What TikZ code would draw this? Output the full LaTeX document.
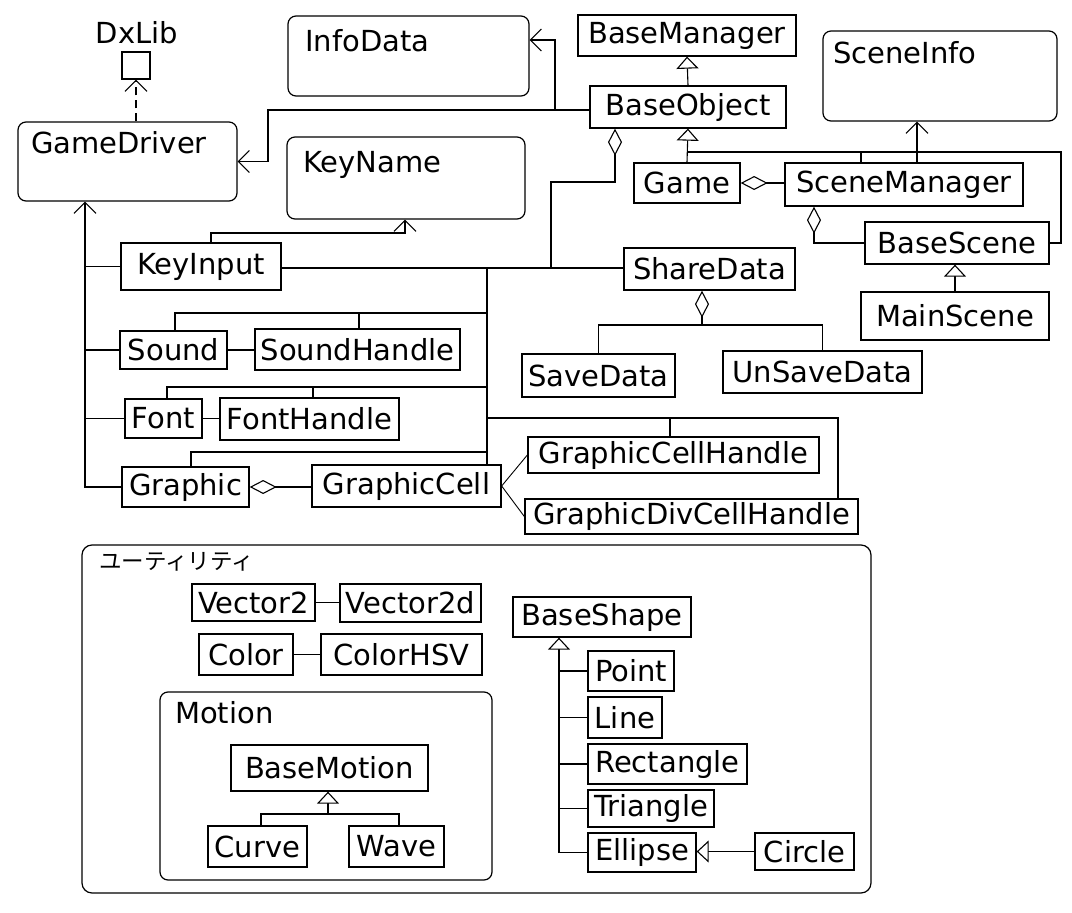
\documentclass[tikz,border=0pt]{standalone}
\usepackage{fontspec}
\setmainfont{DejaVu Sans}
\newfontfamily\jpfont{Noto Sans CJK JP}
\usetikzlibrary{arrows.meta,calc}
\tikzset{
 cls/.style={draw, line width=1.3pt, inner sep=0pt, fill=white, font=\fontsize{29}{34}\selectfont},
 rbox/.style={draw, line width=1.2pt, rounded corners=8pt, inner sep=0pt},
 ubox/.style={draw, line width=1.2pt, rounded corners=10pt, inner sep=0pt},
 lbl/.style={anchor=west, inner sep=0pt, font=\fontsize{29}{34}\selectfont},
 ln/.style={line width=1.1pt},
 thin ln/.style={line width=0.9pt},
 arr/.style={ln, -{Straight Barb[length=11pt,width=22pt,line width=1.1pt]}},
 tri/.style={ln, -{Triangle[open,length=12pt,width=22pt,line width=1.1pt,fill=white]}},
 dia/.style={ln, {Diamond[open,length=27pt,width=14pt,line width=1.1pt,fill=white]}-},
}
\newcommand\bx[7][cls]{\node[#1,minimum width={#5-#3},minimum height={#6-#4}] (#2) at ({(#3+#5)/2},{(#4+#6)/2}) {#7};}
\begin{document}
\begin{tikzpicture}[x=1pt,y=-1pt]
\useasboundingbox (0,0) rectangle (1072,913);
\fill[white] (0,0) rectangle (1072,913);

% top-left
\node[inner sep=0pt, font=\fontsize{29}{34}\selectfont] (dxt) at (137,33) {DxLib};
\bx{dx}{122}{52}{150}{79}{}
\bx[rbox]{gd}{18}{122}{237}{201}{}
\node[lbl] (gdt) at (31,143) {GameDriver};
\bx[rbox]{id}{288}{16}{529}{96}{}
\node[lbl] (idt) at (305,41) {InfoData};
\bx[rbox]{kn}{287}{137}{525}{219}{}
\node[lbl] (knt) at (303,165) {KeyName};
\bx[rbox]{si}{823}{31}{1057}{121}{}
\node[lbl] (sit) at (833,53) {SceneInfo};

\bx{bm}{578}{15}{796}{56}{BaseManager}
\bx{bo}{590}{86}{786}{128}{BaseObject}
\bx{game}{634}{163}{740}{203}{Game}
\bx{sm}{785}{163}{1023}{206}{SceneManager}
\bx{bs}{865}{222}{1049}{264}{BaseScene}
\bx{ms}{861}{292}{1049}{340}{MainScene}
\bx{sd}{624}{248}{795}{290}{ShareData}
\bx{sv}{522}{354}{675}{397}{SaveData}
\bx{usv}{723}{351}{922}{393}{UnSaveData}
\bx{ki}{121}{243}{281}{290}{KeyInput}
\bx{so}{120}{331}{227}{369}{Sound}
\bx{sh}{255}{329}{460}{370}{SoundHandle}
\bx{fo}{125}{399}{202}{438}{Font}
\bx{fh}{220}{398}{399}{440}{FontHandle}
\bx{gr}{122}{467}{249}{507}{Graphic}
\bx{gc}{312}{465}{501}{507}{GraphicCell}
\bx{gch}{528}{437}{819}{473}{GraphicCellHandle}
\bx{gdch}{525}{499}{858}{534}{GraphicDivCellHandle}

% utility
\bx[ubox]{util}{82}{545}{871}{893}{}
\node[anchor=west, inner sep=0pt, font=\jpfont\fontsize{22.5}{26}\selectfont] (utilt) at (99,562) {ユーティリティ};
\bx{v2}{192}{584}{315}{621}{Vector2}
\bx{v2d}{340}{584}{481}{622}{Vector2d}
\bx{co}{199}{634}{293}{675}{Color}
\bx{chsv}{321}{634}{482}{675}{ColorHSV}
\bx[rbox]{mot}{160}{692}{492}{880}{}
\node[lbl] (mott) at (175,713) {Motion};
\bx{bmo}{231}{745}{428}{791}{BaseMotion}
\bx{cu}{208}{826}{307}{867}{Curve}
\bx{wa}{349}{826}{444}{867}{Wave}
\bx{bsh}{513}{597}{691}{637}{BaseShape}
\bx{pt}{588}{651}{674}{691}{Point}
\bx{li}{588}{697}{662}{738}{Line}
\bx{re}{588}{744}{747}{784}{Rectangle}
\bx{tr}{588}{790}{714}{827}{Triangle}
\bx{el}{588}{833}{696}{872}{Ellipse}
\bx{ci}{755}{833}{854}{870}{Circle}

% connectors top
\draw[arr, dash pattern=on 8pt off 5pt] (dx.south |- gd.north) -- (dx.south);
\draw[arr] (bo.west |- 0,110) -- (268,110) -- (268,161.5) -- (gd.east);
\draw[arr] (555,110) -- (555,40) -- (id.east |- 0,40);
\draw[tri] (bo.north) -- (bm.south);
\draw[tri] (game.north) -- (bo.south);
\draw[ln] (sm.north -| 861,0) -- (861,152);
\draw[ln] (bs.east) -- (1061,243) -- (1061,152) -- (687,152);
\draw[dia] (game.east) -- (sm.west |- game.east);
\draw[arr] (sm.north -| 917,0) -- (si.south -| 917,0);
\draw[dia] (sm.south -| 814,0) |- (bs.west);
\draw[tri] (ms.north) -- (ms.north |- bs.south);
\draw[dia] (sd.south -| 702,0) -- (702,325);
\draw[ln] (sv.north) -- (sv.north |- 0,325) -- (usv.north |- 0,325) -- (usv.north);
\draw[dia] (bo.south -| 615,0) -- (615,182) -- (551,182) -- (551,268);
\draw[ln] (ki.east |- 0,268) -- (sd.west |- 0,268);
\draw[arr] (ki.north -| 211,0) -- (211,233) -- (405,233) -- (kn.south -| 405,0);

% left column
\draw[arr] (gr.west) -- (85,487) -- (gd.south -| 85,0);
\draw[ln] (85,266.5) -- (ki.west);
\draw[ln] (85,350) -- (so.west);
\draw[ln] (85,418.5) -- (fo.west);
\draw[ln] (487,268) -- (gc.north -| 487,0);
\draw[ln] (so.north -| 175,0) -- (175,313) -- (487,313);
\draw[ln] (359,313) -- (sh.north -| 359,0);
\draw[ln] (fo.north -| 167,0) -- (167,387) -- (487,387);
\draw[ln] (313,387) -- (fh.north -| 313,0);
\draw[ln] (gr.north -| 191,0) -- (191,452) -- (487,452);
\draw[ln] (487,418) -- (838,418) -- (gdch.north -| 838,0);
\draw[ln] (670,418) -- (gch.north -| 670,0);
\draw[ln] (so.east) -- (sh.west |- so.east);
\draw[ln] (fo.east) -- (fh.west |- fo.east);
\draw[dia] (gr.east) -- (gc.west |- gr.east);
\draw[thin ln] (gc.east) -- (gch.west);
\draw[thin ln] (gc.east) -- (gdch.west);

% utility connectors
\draw[ln] (v2.east) -- (v2d.west |- v2.east);
\draw[ln] (co.east) -- (chsv.west |- co.east);
\draw[ln] (cu.north -| 261,0) -- (261,814) -- (399,814) -- (wa.north -| 399,0);
\draw[tri] (328,814) -- (bmo.south -| 328,0);
\draw[tri] (559,853) -- (bsh.south -| 559,0);
\draw[ln] (559,671) -- (pt.west);
\draw[ln] (559,717.5) -- (li.west);
\draw[ln] (559,764) -- (re.west);
\draw[ln] (559,808.5) -- (tr.west);
\draw[ln] (559,852.5) -- (el.west);
\draw[tri] (ci.west) -- (el.east |- ci.west);
\end{tikzpicture}
\end{document}
